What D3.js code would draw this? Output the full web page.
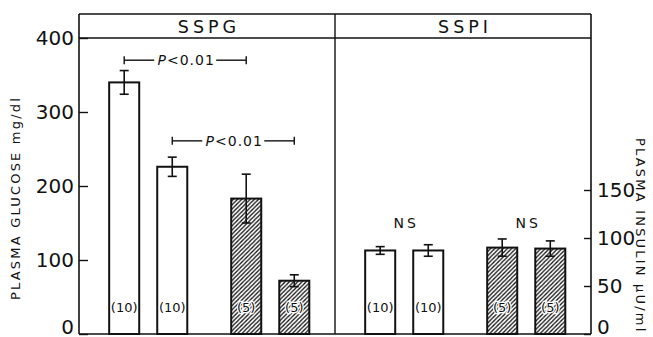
<!DOCTYPE html>
<html><head><meta charset="utf-8">
<script src="https://cdn.jsdelivr.net/npm/d3@7/dist/d3.min.js"></script>
<style>
html,body{margin:0;padding:0;background:#fff;}
svg{display:block;}
text{font-family:"DejaVu Sans",sans-serif;fill:#111;}
</style></head>
<body>
<svg id="chart" width="653" height="337"></svg>
<script>
// ---- data ----
const panels = ["SSPG", "SSPI"];
const barGroup = ["open", "open", "hatched", "hatched"];
const barCond = ["first", "second", "first", "second"];
const nLabels = ["(10)", "(10)", "(5)", "(5)"];
const sspgMean = [340, 226, 183, 72];
const sspgSem = [16, 13, 33, 8];
const sspiMean = [87, 87, 90, 89];
const sspiSem = [4, 6, 9, 8];
const glucoseTicks = [0, 100, 200, 300, 400];
const insulinTicks = [0, 50, 100, 150];
const sspgComparisons = [[0, 2], [1, 3]];
const sspgCompLevel = [370, 261];
const sspgCompLabel = ["P<0.01", "P<0.01"];
const sspiComparisons = [[0, 1], [2, 3]];
const sspiCompLevel = [116, 116];
const sspiCompLabel = ["NS", "NS"];

// ---- layout ----
const svg = d3.select("#chart");
const mLeft = 79, mRight = 591, mTop = 14, headerY = 38, base = 334;

const xPanel = d3.scaleBand().domain(panels).range([mLeft, mRight]);
const xGroup = d3.scaleBand().domain(["open", "hatched"]).range([0, xPanel.bandwidth()])
  .paddingInner(0.36).paddingOuter(0.229).align(0.54);
const xCond = d3.scaleBand().domain(["first", "second"]).range([0, xGroup.bandwidth()])
  .paddingInner(0.375).paddingOuter(0);

const yG = d3.scaleLinear().domain([0, 400]).range([base, headerY]);
const yI = d3.scaleLinear().domain([0, 150]).range([base, 190]);

function barX(panel, i) {
  return xPanel(panel) + xGroup(barGroup[i]) + xCond(barCond[i]);
}
function barCx(panel, i) { return barX(panel, i) + xCond.bandwidth() / 2; }

// hatch pattern
const defs = svg.append("defs");
const pat = defs.append("pattern").attr("id", "hatch").attr("patternUnits", "userSpaceOnUse")
  .attr("width", 4.2).attr("height", 4.2);
pat.append("rect").attr("width", 4.2).attr("height", 4.2).attr("fill", "#fff");
pat.append("path").attr("d", "M-1,1 L1,-1 M0,4.2 L4.2,0 M3.2,5.2 L5.2,3.2")
  .attr("stroke", "#111").attr("stroke-width", 1.3);

// frame
const frame = svg.append("g").attr("stroke", "#111").attr("fill", "none");
frame.append("line").attr("x1", mLeft).attr("x2", mRight).attr("y1", mTop).attr("y2", mTop).attr("stroke-width", 1.6);
frame.append("line").attr("x1", mLeft).attr("x2", mRight).attr("y1", headerY).attr("y2", headerY).attr("stroke-width", 1.6);
frame.append("line").attr("x1", mLeft).attr("x2", mLeft).attr("y1", mTop).attr("y2", base).attr("stroke-width", 1.6);
frame.append("line").attr("x1", mRight).attr("x2", mRight).attr("y1", mTop).attr("y2", base).attr("stroke-width", 1.6);
frame.append("line").attr("x1", xPanel("SSPI")).attr("x2", xPanel("SSPI")).attr("y1", mTop).attr("y2", base).attr("stroke-width", 1.4);
frame.append("line").attr("x1", mLeft).attr("x2", mRight).attr("y1", base).attr("y2", base).attr("stroke-width", 1.6);

// headers
svg.selectAll("text.hdr").data(panels).join("text").attr("class", "hdr")
  .attr("x", d => xPanel(d) + xPanel.bandwidth() / 2 + 2).attr("y", 32.5)
  .attr("text-anchor", "middle").attr("font-size", 17.5).attr("letter-spacing", 4).text(d => d);

// axes
const axL = svg.append("g").attr("transform", `translate(${mLeft},0)`)
  .call(d3.axisLeft(yG).tickValues(glucoseTicks).tickSize(-9).tickSizeOuter(0).tickPadding(5));
const axR = svg.append("g").attr("transform", `translate(${mRight},0)`)
  .call(d3.axisRight(yI).tickValues(insulinTicks).tickSize(-7).tickSizeOuter(0).tickPadding(6));
[axL, axR].forEach(a => {
  a.select(".domain").remove();
  a.selectAll("line").attr("stroke", "#111").attr("stroke-width", 1.4);
  a.selectAll("text").attr("font-size", 20).attr("font-family", "DejaVu Sans, sans-serif").attr("fill", "#111");
  // keep the baseline "0" label inside the picture
  a.selectAll(".tick").filter(d => d === 0).select("text").attr("dy", "-0.05em");
});

// axis titles
svg.append("text").attr("transform", "translate(20,300) rotate(-90)")
  .attr("font-size", 13).attr("letter-spacing", 2.2).text("PLASMA GLUCOSE mg/dl");
svg.append("text").attr("transform", "translate(636,138) rotate(90)")
  .attr("font-size", 13).attr("letter-spacing", 2.2).text("PLASMA INSULIN µU/ml");

// bars
function drawPanel(panel, means, sems, y) {
  const g = svg.append("g");
  const idx = d3.range(means.length);
  g.selectAll("rect").data(idx).join("rect")
    .attr("x", i => barX(panel, i)).attr("width", xCond.bandwidth())
    .attr("y", i => y(means[i])).attr("height", i => y(0) - y(means[i]))
    .attr("fill", i => barGroup[i] === "hatched" ? "url(#hatch)" : "#fff")
    .attr("stroke", "#111").attr("stroke-width", 2);
  const eb = g.selectAll("g.eb").data(idx).join("g").attr("class", "eb")
    .attr("stroke", "#111").attr("stroke-width", 1.6);
  eb.append("line").attr("x1", i => barCx(panel, i)).attr("x2", i => barCx(panel, i))
    .attr("y1", i => y(means[i] - sems[i])).attr("y2", i => y(means[i] + sems[i]));
  eb.append("line").attr("x1", i => barCx(panel, i) - 4.5).attr("x2", i => barCx(panel, i) + 4.5)
    .attr("y1", i => y(means[i] + sems[i])).attr("y2", i => y(means[i] + sems[i]));
  eb.append("line").attr("x1", i => barCx(panel, i) - 4.5).attr("x2", i => barCx(panel, i) + 4.5)
    .attr("y1", i => y(means[i] - sems[i])).attr("y2", i => y(means[i] - sems[i]));
  g.selectAll("text").data(idx).join("text")
    .attr("x", i => barCx(panel, i)).attr("y", base - 22)
    .attr("text-anchor", "middle").attr("font-size", 13)
    .attr("stroke", "#fff").attr("stroke-width", 2.5).attr("paint-order", "stroke")
    .text(i => nLabels[i]);
}
drawPanel("SSPG", sspgMean, sspgSem, yG);
drawPanel("SSPI", sspiMean, sspiSem, yI);

// P brackets
sspgComparisons.forEach((c, k) => {
  const x1 = barCx("SSPG", c[0]), x2 = barCx("SSPG", c[1]);
  const yy = yG(sspgCompLevel[k]);
  const g = svg.append("g").attr("stroke", "#111").attr("stroke-width", 1.4);
  const mid = (x1 + x2) / 2, half = 31;
  g.append("line").attr("x1", x1).attr("x2", mid - half).attr("y1", yy).attr("y2", yy);
  g.append("line").attr("x1", mid + half).attr("x2", x2).attr("y1", yy).attr("y2", yy);
  g.append("line").attr("x1", x1).attr("x2", x1).attr("y1", yy - 4).attr("y2", yy + 4);
  g.append("line").attr("x1", x2).attr("x2", x2).attr("y1", yy - 4).attr("y2", yy + 4);
  const t = svg.append("text").attr("x", mid + 1).attr("y", yy + 5).attr("text-anchor", "middle")
    .attr("font-size", 14).attr("letter-spacing", 1);
  t.append("tspan").attr("font-style", "italic").text(sspgCompLabel[k].slice(0, 1));
  t.append("tspan").text(sspgCompLabel[k].slice(1));
});

// NS labels
sspiComparisons.forEach((c, k) => {
  const mid = (barCx("SSPI", c[0]) + barCx("SSPI", c[1])) / 2;
  svg.append("text").attr("x", mid + 2).attr("y", yI(sspiCompLevel[k]) + 5)
    .attr("text-anchor", "middle").attr("font-size", 14).attr("letter-spacing", 3)
    .text(sspiCompLabel[k]);
});
</script>
</body></html>
